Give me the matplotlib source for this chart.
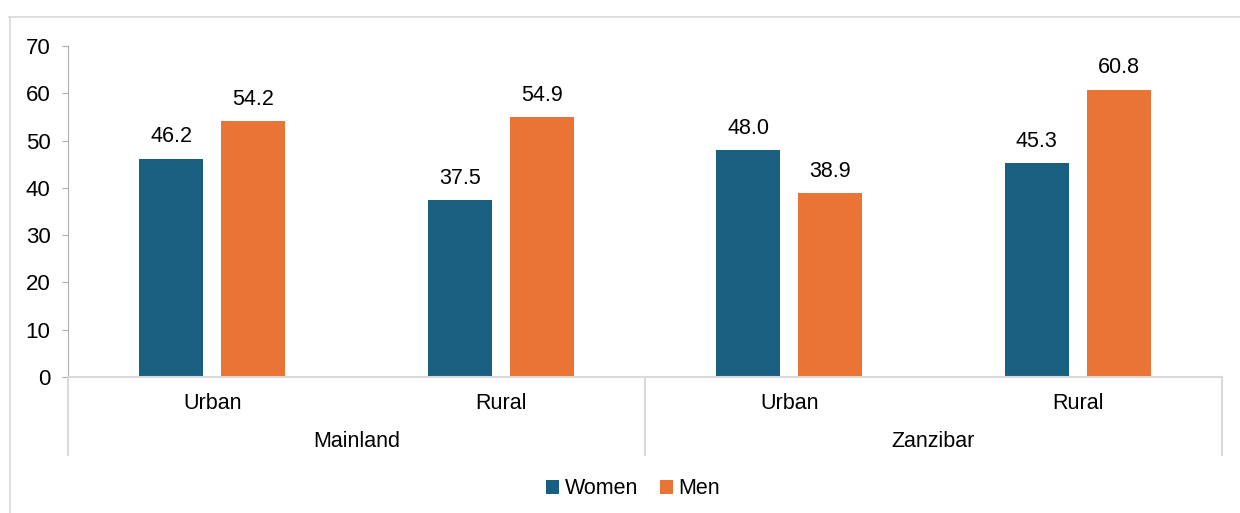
import numpy as np
import matplotlib
matplotlib.use("Agg")
import matplotlib.pyplot as plt
import matplotlib.transforms as mtransforms
from matplotlib.lines import Line2D

plt.rcParams['font.family'] = ['Liberation Sans', 'DejaVu Sans']

# Data
categories = ['Urban', 'Rural', 'Urban', 'Rural']
regions = ['Mainland', 'Zanzibar']
women = [46.2, 37.5, 48.0, 45.3]
men = [54.2, 54.9, 38.9, 60.8]

WOMEN_COLOR = '#185F80'
MEN_COLOR = '#E97435'
GRID_GRAY = '#d9d9d9'
FS = 15.5

fig = plt.figure(figsize=(12.4, 5.13), dpi=100)
ax = fig.add_axes([0.0548, 0.2651, 0.9307, 0.6452])

x = np.arange(len(categories))
width = 0.222
offset = 0.142

bw = ax.bar(x - offset, women, width, color=WOMEN_COLOR, label='Women')
bm = ax.bar(x + offset, men, width, color=MEN_COLOR, label='Men')

for bars, vals in [(bw, women), (bm, men)]:
    for b, v in zip(bars, vals):
        ax.annotate(f'{v:.1f}', (b.get_x() + b.get_width() / 2, v),
                    xytext=(0, 8), textcoords='offset points',
                    ha='center', va='bottom', fontsize=FS, color='#000000')

ax.set_xlim(-0.5, len(categories) - 0.5)
ax.set_ylim(0, 70)
ax.set_yticks(range(0, 71, 10))
ax.tick_params(axis='y', labelsize=FS + 0.5, length=4.5, color='#b0b0b0', pad=8)
ax.tick_params(axis='x', length=0, labelbottom=False)

for s in ['top', 'right']:
    ax.spines[s].set_visible(False)
ax.spines['left'].set_color('#b0b0b0')
ax.spines['bottom'].set_color(GRID_GRAY)
ax.spines['bottom'].set_linewidth(1.5)

# Category and group labels below the axis
trans = mtransforms.blended_transform_factory(ax.transData, ax.transAxes)
for xi, c in zip(x, categories):
    ax.text(xi, -0.08, c, transform=trans, ha='center', va='center', fontsize=FS)
for gi, g in enumerate(regions):
    ax.text(gi * 2 + 0.5, -0.195, g, transform=trans, ha='center', va='center', fontsize=FS)

# Group separators
for sx in [-0.5, 1.5, 3.5]:
    ax.add_line(Line2D([sx, sx], [0, -0.236], transform=trans, color=GRID_GRAY,
                       lw=1.5, clip_on=False))

# Outer chart frame
fig.add_artist(Line2D([9 / 1240, 1], [1 - 17 / 513, 1 - 17 / 513], transform=fig.transFigure,
                      color=GRID_GRAY, lw=1.2))
fig.add_artist(Line2D([9.5 / 1240, 9.5 / 1240], [0, 1 - 17 / 513], transform=fig.transFigure,
                      color=GRID_GRAY, lw=1.2))

fig.legend(handles=[bw, bm], labels=['Women', 'Men'], loc='center',
           bbox_to_anchor=(633 / 1240, 1 - 489 / 513), ncol=2, frameon=False,
           fontsize=FS, handlelength=0.6, handleheight=0.6, handletextpad=0.25,
           columnspacing=1.0)

fig.savefig('out.png', dpi=100, facecolor='white')
